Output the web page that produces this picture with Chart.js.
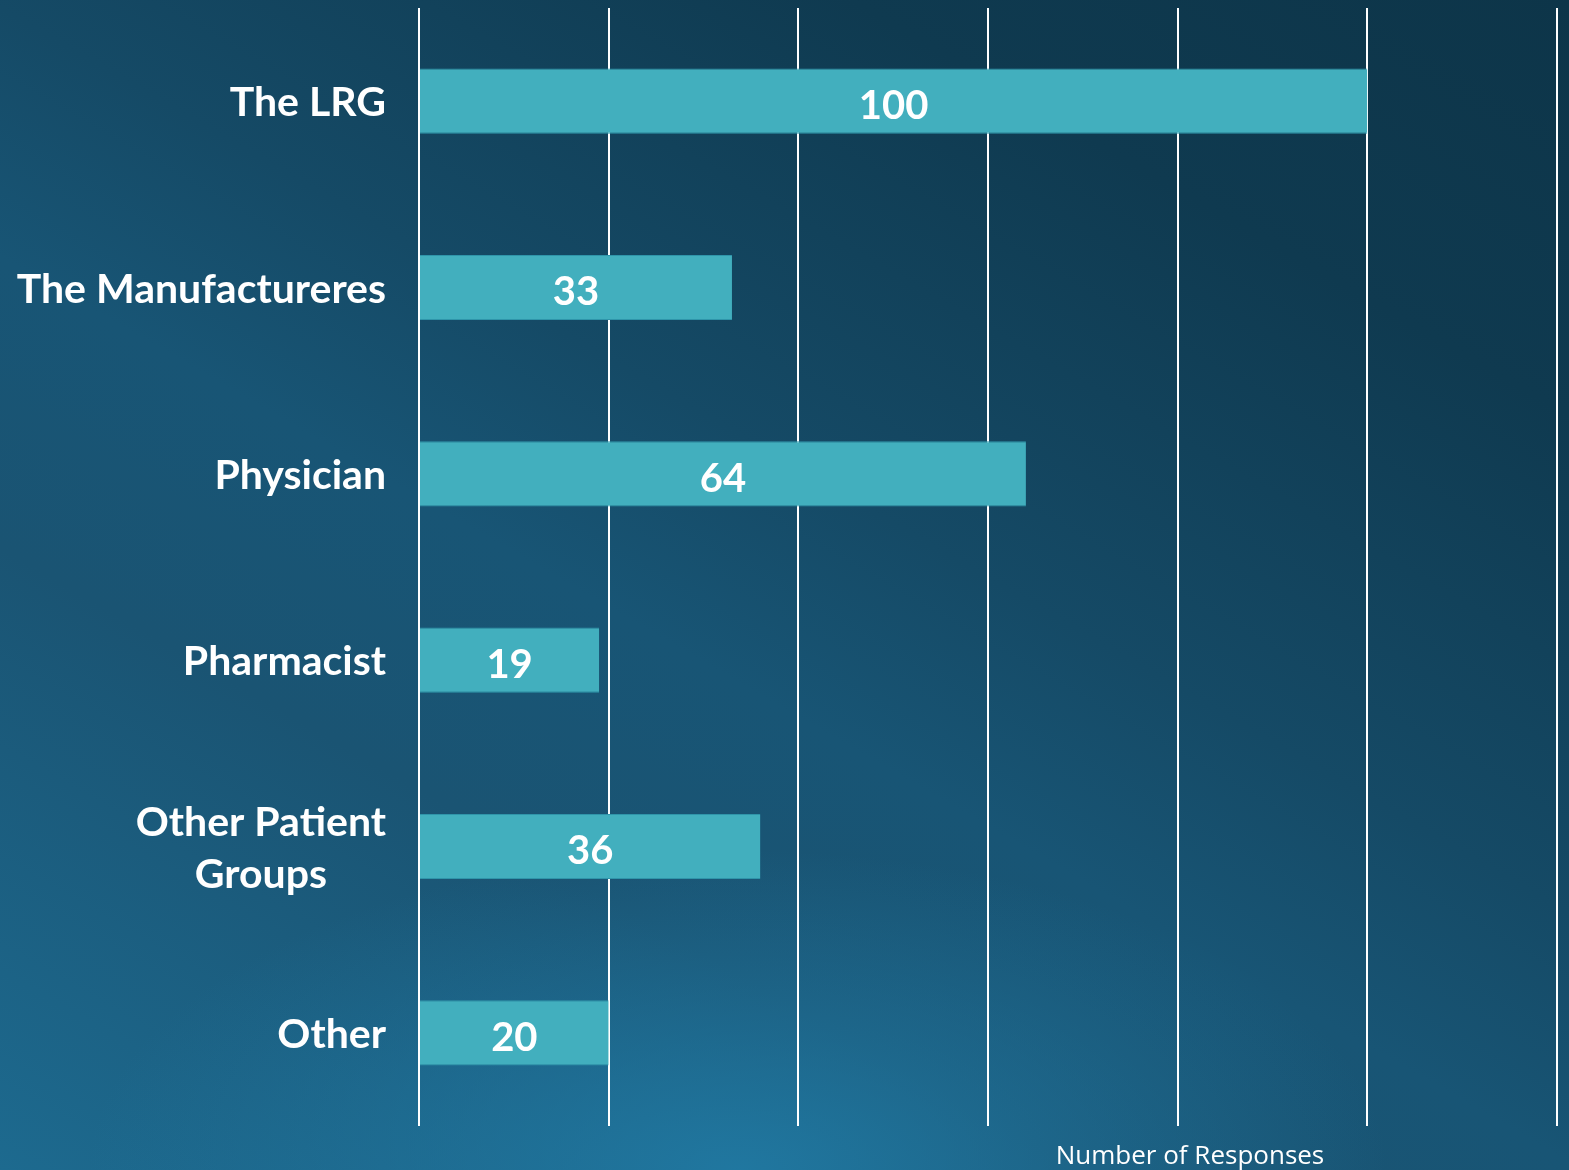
<!DOCTYPE html>
<html>
<head>
<meta charset="utf-8">
<script src="https://cdn.jsdelivr.net/npm/chart.js@4"></script>
<style>
  html, body { margin: 0; padding: 0; }
  body {
    width: 1569px; height: 1170px; overflow: hidden;
    background:
      radial-gradient(ellipse 650px 320px at 47% 100%, rgba(33,124,166,0.85) 0%, rgba(33,124,166,0) 100%),
      linear-gradient(30deg, #1d6a8f 0%, #1a5473 30%, #185575 44%, #154a66 56%, #0f3a50 80%, #0d3549 100%);
  }
  #wrap { width: 1569px; height: 1170px; }
</style>
</head>
<body>
<div id="wrap"><canvas id="myChart"></canvas></div>
<script>
  const categories = ['The LRG', 'The Manufactureres', 'Physician', 'Pharmacist', ['Other Patient', 'Groups'], 'Other'];
  const responses = [100, 33, 64, 19, 36, 20];
  const axisTitle = 'Number of Responses';

  const ctx = document.getElementById('myChart');

  // draws category labels (right aligned block, lines centred), value labels and axis title
  const labelPlugin = {
    id: 'labels',
    afterDraw(chart) {
      const c = chart.ctx;
      const y = chart.scales.y;
      const x = chart.scales.x;
      c.save();
      c.fillStyle = '#ffffff';
      c.font = 'bold 41px Lato';
      c.textBaseline = 'middle';
      c.textAlign = 'center';
      categories.forEach((lab, i) => {
        const lines = Array.isArray(lab) ? lab : [lab];
        const widest = Math.max(...lines.map(l => c.measureText(l).width));
        const cx = y.right - 33 - widest / 2;
        const cy = y.getPixelForTick(i) + 2;
        const lh = 52;
        lines.forEach((l, j) => {
          c.fillText(l, cx, cy + (j - (lines.length - 1) / 2) * lh);
        });
      });
      const meta = chart.getDatasetMeta(0);
      c.font = 'bold 40px Lato';
      meta.data.forEach((bar, i) => {
        c.fillText(String(responses[i]), (bar.x + bar.base) / 2, bar.y + 5);
      });
      c.font = '26px "Open Sans"';
      c.fillText(axisTitle, x.getPixelForDecimal(0.6775), chart.chartArea.bottom + 31);
      c.restore();
    }
  };

  new Chart(ctx, {
    type: 'bar',
    data: {
      labels: categories,
      datasets: [{
        label: axisTitle,
        data: responses,
        backgroundColor: '#42afbe',
        borderColor: '#2f95aa',
        borderWidth: { top: 1, bottom: 1, left: 0, right: 0 },
        borderSkipped: false,
        barPercentage: 0.35,
        categoryPercentage: 1
      }]
    },
    options: {
      indexAxis: 'y',
      responsive: true,
      maintainAspectRatio: false,
      animation: false,
      layout: { padding: { top: 8, right: 12, left: 0, bottom: 0 } },
      plugins: {
        legend: { display: false },
        tooltip: { enabled: false }
      },
      scales: {
        x: {
          min: 0,
          max: 120,
          ticks: { display: false, stepSize: 20 },
          grid: { color: '#ffffff', lineWidth: 2, drawTicks: false },
          border: { display: false },
          afterFit(scale) { scale.height = 44; }
        },
        y: {
          ticks: { display: false },
          grid: { display: false },
          border: { display: false },
          afterFit(scale) { scale.width = 419; }
        }
      }
    },
    plugins: [labelPlugin]
  });
</script>
</body>
</html>
